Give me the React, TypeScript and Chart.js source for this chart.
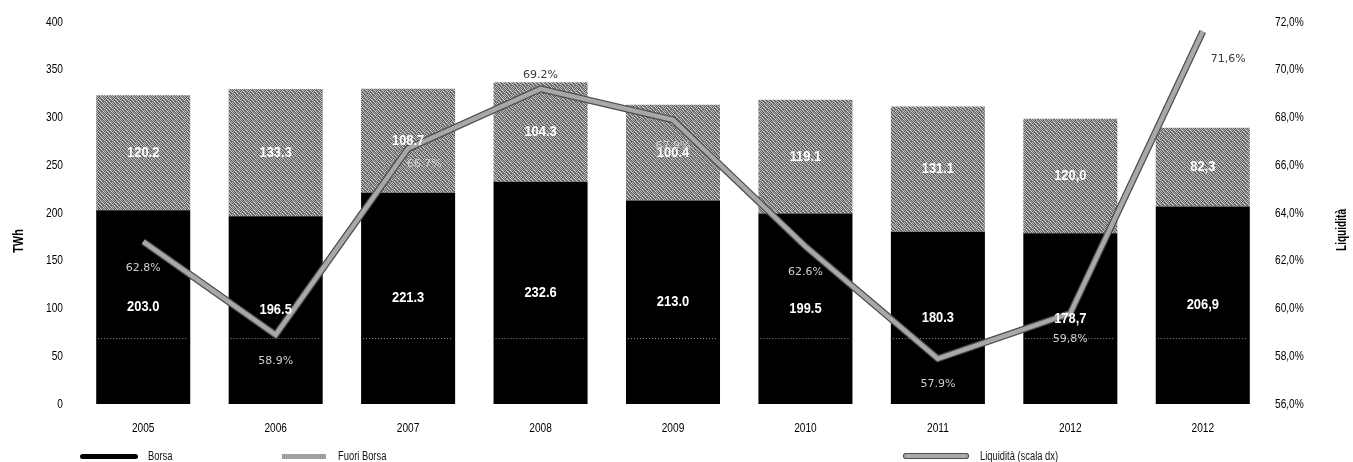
import React, { useEffect, useRef } from "react";
import { Chart, registerables } from "chart.js";

Chart.register(...registerables);

// Categories and series (TWh on the left axis, liquidity % on the right axis)
const years = ["2005", "2006", "2007", "2008", "2009", "2010", "2011", "2012", "2012"];
const borsa = [203.0, 196.5, 221.3, 232.6, 213.0, 199.5, 180.3, 178.7, 206.9];
const fuoriBorsa = [120.2, 133.3, 108.7, 104.3, 100.4, 119.1, 131.1, 120.0, 82.3];
const liquidita = [62.8, 58.9, 66.7, 69.2, 67.9, 62.6, 57.9, 59.8, 71.6];
const decimalMarks = [".", ".", ".", ".", ".", ".", ".", ",", ","];

// Axis ranges
const twhRange = { min: 0, max: 400, step: 50 };
const pctRange = { min: 56, max: 72, step: 2 };
const dottedRefValue = 69;

// Where each liquidity label sits relative to its point
const pctLabelPlacement = ["below", "below", "belowRight", "above", "below", "below", "below", "below", "right"];

const SANS = '"Liberation Sans", Arial, sans-serif';
const THIN = '"DejaVu Sans", sans-serif';

const GRAIN = [
  [196, 118, 160, 92, 214, 138, 176, 104],
  [128, 226, 98, 170, 124, 204, 112, 186],
  [172, 86, 204, 146, 96, 164, 228, 132],
  [104, 184, 134, 236, 168, 88, 150, 200],
  [222, 142, 94, 118, 198, 156, 108, 168],
  [136, 166, 218, 102, 144, 232, 126, 90],
  [184, 100, 152, 206, 86, 120, 194, 148],
  [116, 210, 124, 160, 178, 140, 98, 220],
];

function makeGrainPattern(): CanvasPattern | string {
  const n = GRAIN.length;
  const c = document.createElement("canvas");
  c.width = n;
  c.height = n;
  const ctx = c.getContext("2d");
  if (!ctx) return "#999999";
  const img = ctx.createImageData(n, n);
  for (let y = 0; y < n; y++) {
    for (let x = 0; x < n; x++) {
      const g = GRAIN[y][x] - 12;
      const o = (y * n + x) * 4;
      img.data[o] = g;
      img.data[o + 1] = g;
      img.data[o + 2] = g;
      img.data[o + 3] = 255;
    }
  }
  ctx.putImageData(img, 0, 0);
  return ctx.createPattern(c, "repeat") || "#999999";
}

const fmt = (v: number, i: number) => v.toFixed(1).replace(".", decimalMarks[i]);

// Draws text squeezed horizontally to get a condensed face
function narrowText(ctx: CanvasRenderingContext2D, text: string, x: number, y: number, align: CanvasTextAlign, sx: number) {
  ctx.save();
  ctx.translate(x, y);
  ctx.scale(sx, 1);
  ctx.textAlign = align;
  ctx.fillText(text, 0, 0);
  ctx.restore();
}

// Dark outline under the liquidity line
const lineOutline = {
  id: "lineOutline",
  beforeDatasetDraw(chart: any, args: any) {
    if (args.index !== 2) return;
    const pts = chart.getDatasetMeta(2).data;
    const ctx = chart.ctx;
    ctx.save();
    ctx.beginPath();
    pts.forEach((p: any, i: number) => (i === 0 ? ctx.moveTo(p.x, p.y) : ctx.lineTo(p.x, p.y)));
    ctx.strokeStyle = "#4d4d4d";
    ctx.lineWidth = 7;
    ctx.stroke();
    ctx.restore();
  },
};

// Dotted reference line across the black bars
const dottedRef = {
  id: "dottedRef",
  afterDatasetDraw(chart: any, args: any) {
    if (args.index !== 0) return;
    const ctx = chart.ctx;
    const y = chart.scales.y.getPixelForValue(dottedRefValue);
    ctx.save();
    ctx.strokeStyle = "#9a9a9a";
    ctx.lineWidth = 1;
    ctx.setLineDash([1, 2]);
    chart.getDatasetMeta(0).data.forEach((bar: any) => {
      ctx.beginPath();
      ctx.moveTo(bar.x - bar.width / 2 + 2, y + 0.5);
      ctx.lineTo(bar.x + bar.width / 2 - 2, y + 0.5);
      ctx.stroke();
    });
    ctx.restore();
  },
};

// Tick labels, value labels and axis titles
const textLayer = {
  id: "textLayer",
  afterDatasetsDraw(chart: any) {
    const ctx = chart.ctx;
    ctx.save();
    ctx.textBaseline = "middle";
    ctx.fillStyle = "#ffffff";
    ctx.font = `bold 15px ${SANS}`;
    chart.getDatasetMeta(0).data.forEach((bar: any, i: number) => {
      narrowText(ctx, fmt(borsa[i], i), bar.x, (bar.y + bar.base) / 2, "center", 0.86);
    });
    chart.getDatasetMeta(1).data.forEach((bar: any, i: number) => {
      narrowText(ctx, fmt(fuoriBorsa[i], i), bar.x, (bar.y + bar.base) / 2, "center", 0.86);
    });
    ctx.restore();
  },
  afterDraw(chart: any) {
    const ctx = chart.ctx;
    const { x, y, y1 } = chart.scales;
    ctx.save();
    ctx.textBaseline = "middle";

    // Liquidity labels
    ctx.font = `11px ${THIN}`;
    const tops = chart.getDatasetMeta(1).data;
    chart.getDatasetMeta(2).data.forEach((p: any, i: number) => {
      let lx = p.x;
      let ly = p.y;
      let align: CanvasTextAlign = "center";
      const place = pctLabelPlacement[i];
      if (place === "below") ly += 26;
      else if (place === "above") ly -= 14;
      else if (place === "belowRight") {
        lx += 16;
        ly += 16;
      } else if (place === "right") {
        lx += 8;
        ly += 28;
        align = "left";
      }
      const bar = tops[i];
      const inside = ly > bar.y && Math.abs(lx - bar.x) < bar.width / 2;
      ctx.fillStyle = inside ? "#cfcfcf" : "#3a3a3a";
      ctx.textAlign = align;
      ctx.fillText(liquidita[i].toFixed(1).replace(".", decimalMarks[i]) + "%", lx, ly);
    });

    // Tick labels
    ctx.fillStyle = "#000000";
    ctx.font = `13px ${SANS}`;
    for (let v = twhRange.min; v <= twhRange.max; v += twhRange.step) {
      narrowText(ctx, String(v), y.left + y.width - 14, y.getPixelForValue(v), "right", 0.78);
    }
    for (let v = pctRange.min; v <= pctRange.max; v += pctRange.step) {
      narrowText(ctx, v.toFixed(1).replace(".", ",") + "%", y1.left + 6, y1.getPixelForValue(v), "left", 0.78);
    }
    years.forEach((lab, i) => {
      narrowText(ctx, lab, x.getPixelForValue(i), x.top + 24, "center", 0.78);
    });

    // Axis titles
    ctx.font = `bold 14px ${SANS}`;
    ctx.save();
    ctx.translate(19, 241);
    ctx.rotate(-Math.PI / 2);
    narrowText(ctx, "TWh", 0, 0, "center", 0.78);
    ctx.restore();
    ctx.save();
    ctx.translate(1342, 230);
    ctx.rotate(-Math.PI / 2);
    narrowText(ctx, "Liquidità", 0, 0, "center", 0.72);
    ctx.restore();
    ctx.restore();
  },
};

export default function App() {
  const canvasRef = useRef<HTMLCanvasElement | null>(null);

  useEffect(() => {
    const canvas = canvasRef.current;
    if (!canvas) return;
    const grain = makeGrainPattern();
    const chart = new Chart(canvas, {
      data: {
        labels: years,
        datasets: [
          {
            type: "bar",
            label: "Borsa",
            data: borsa,
            backgroundColor: "#000000",
            yAxisID: "y",
            stack: "tot",
            order: 2,
            categoryPercentage: 1,
            barPercentage: 0.71,
          },
          {
            type: "bar",
            label: "Fuori Borsa",
            data: fuoriBorsa,
            backgroundColor: grain as any,
            yAxisID: "y",
            stack: "tot",
            order: 2,
            categoryPercentage: 1,
            barPercentage: 0.71,
          },
          {
            type: "line",
            label: "Liquidità (scala dx)",
            data: liquidita,
            borderColor: "#a8a8a8",
            borderWidth: 4.5,
            pointRadius: 0,
            tension: 0,
            yAxisID: "y1",
            order: 0,
          },
        ],
      } as any,
      options: {
        responsive: false,
        animation: false,
        layout: { padding: { top: 22, left: 0, right: 0, bottom: 0 } },
        plugins: {
          legend: { display: false },
          tooltip: { enabled: false },
        },
        scales: {
          x: {
            stacked: true,
            offset: true,
            grid: { display: false, drawTicks: false },
            border: { display: false },
            ticks: { display: false },
            afterFit: (s: any) => {
              s.height = 58;
            },
          },
          y: {
            stacked: true,
            position: "left",
            min: twhRange.min,
            max: twhRange.max,
            grid: { display: false, drawTicks: false },
            border: { display: false },
            ticks: { display: false, stepSize: twhRange.step },
            afterFit: (s: any) => {
              s.width = 77;
            },
          },
          y1: {
            position: "right",
            min: pctRange.min,
            max: pctRange.max,
            grid: { display: false, drawTicks: false },
            border: { display: false },
            ticks: { display: false, stepSize: pctRange.step },
            afterFit: (s: any) => {
              s.width = 84;
            },
          },
        },
      } as any,
      plugins: [lineOutline, dottedRef, textLayer],
    });
    return () => chart.destroy();
  }, []);

  const legendText: React.CSSProperties = {
    position: "absolute",
    top: 450,
    fontFamily: SANS,
    fontSize: 12,
    color: "#111",
    lineHeight: "13px",
    whiteSpace: "nowrap",
    transform: "scaleX(0.78)",
    transformOrigin: "left center",
  };

  return (
    <div style={{ position: "fixed", left: 0, top: 0, width: 1353, height: 462, background: "#fff" }}>
      <canvas ref={canvasRef} width={1353} height={462} style={{ display: "block" }} />
      <div style={{ position: "absolute", left: 80, top: 454, width: 58, height: 5, borderRadius: 3, background: "#000" }} />
      <span style={{ ...legendText, left: 148 }}>Borsa</span>
      <div
        style={{
          position: "absolute",
          left: 282,
          top: 454,
          width: 44,
          height: 5,
          background: "repeating-linear-gradient(90deg, #6e6e6e 0px, #c4c4c4 1px, #8a8a8a 2px)",
        }}
      />
      <span style={{ ...legendText, left: 338 }}>Fuori Borsa</span>
      <div
        style={{
          position: "absolute",
          left: 903,
          top: 453,
          width: 66,
          height: 6,
          borderRadius: 3,
          background: "#ababab",
          boxShadow: "inset 0 0 0 1px #4d4d4d",
        }}
      />
      <span style={{ ...legendText, left: 980 }}>Liquidità (scala dx)</span>
    </div>
  );
}
